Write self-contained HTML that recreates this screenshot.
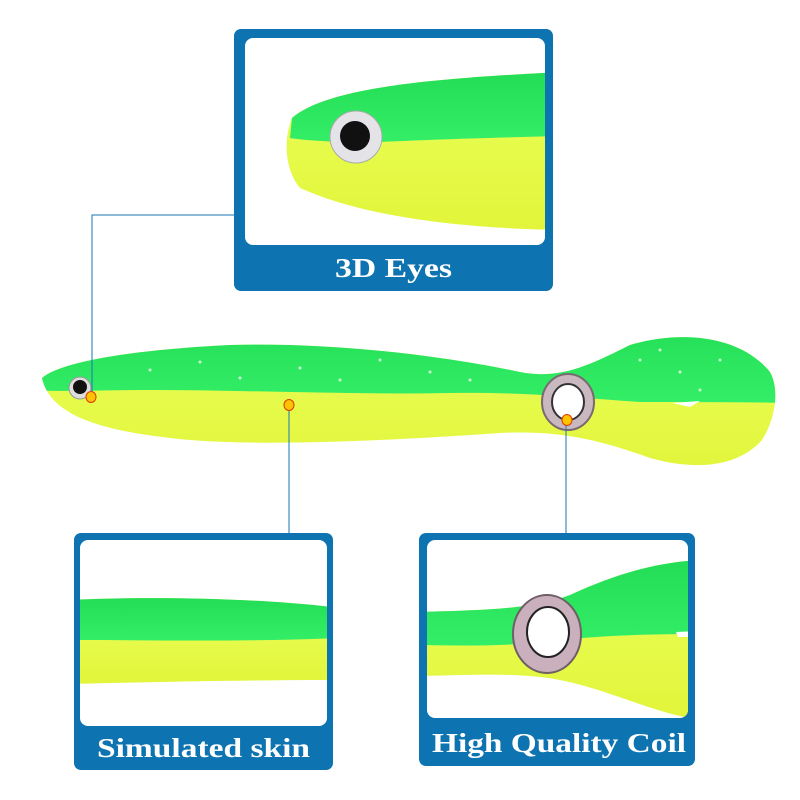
<!DOCTYPE html>
<html><head><meta charset="utf-8"><style>
html,body{margin:0;padding:0;background:#fff;width:800px;height:800px;overflow:hidden}
svg{display:block}
text{font-family:"Liberation Serif",serif;font-weight:bold;fill:#fff}
</style></head><body>
<svg width="800" height="800" viewBox="0 0 800 800">
<defs>
<linearGradient id="g" x1="0" y1="0" x2="0" y2="1"><stop offset="0" stop-color="#22dd55"/><stop offset="1" stop-color="#33ee66"/></linearGradient>
<linearGradient id="y" x1="0" y1="0" x2="0" y2="1"><stop offset="0" stop-color="#eaff5a"/><stop offset="1" stop-color="#e2f53a"/></linearGradient>
<clipPath id="fish"><path d="M42,378 C60,362 130,350 230,345 C330,342 440,355 520,372 C560,380 590,365 630,345 C680,330 740,335 770,372 C780,390 775,420 762,440 C740,465 700,472 650,458 C600,440 560,430 500,433 C400,440 250,448 170,438 C100,430 50,415 42,378 Z"/></clipPath>
<clipPath id="c1"><rect x="245" y="38" width="300" height="207" rx="8"/></clipPath>
<clipPath id="c2"><rect x="80" y="540" width="247" height="186" rx="8"/></clipPath>
<clipPath id="c3"><rect x="427" y="540" width="261" height="178" rx="8"/></clipPath>
</defs>

<g clip-path="url(#fish)">
<rect x="0" y="320" width="800" height="160" fill="url(#y)"/>
<path d="M30,320 H790 V403 C740,402 690,402 640,402 C580,398 530,392 450,393 C350,395 250,390 150,390 C100,390 60,392 30,390 Z" fill="url(#g)"/>
<g fill="#f4fff0" opacity="0.8">
<circle cx="150" cy="370" r="1.5"/><circle cx="200" cy="362" r="1.5"/><circle cx="240" cy="378" r="1.5"/><circle cx="300" cy="368" r="1.5"/><circle cx="340" cy="380" r="1.5"/><circle cx="380" cy="360" r="1.5"/><circle cx="430" cy="372" r="1.5"/><circle cx="470" cy="380" r="1.5"/><circle cx="640" cy="360" r="1.5"/><circle cx="680" cy="372" r="1.5"/><circle cx="720" cy="360" r="1.5"/><circle cx="700" cy="390" r="1.5"/><circle cx="660" cy="350" r="1.5"/>
</g>
</g>
<path d="M672,403 L700,401 L690,407 Z" fill="#fff"/>
<circle cx="80" cy="388" r="11" fill="#ddd" stroke="#999"/>
<circle cx="80" cy="387" r="7" fill="#111"/>
<ellipse cx="568" cy="402" rx="26" ry="28" fill="#c9b8c0" stroke="#7a6a70" stroke-width="2"/>
<ellipse cx="568" cy="402" rx="16" ry="18" fill="#fff" stroke="#333" stroke-width="2"/>

<g stroke="#1a77b5" stroke-width="1" fill="none">
<polyline points="234,215 92,215 92,397"/>
<line x1="289" y1="405" x2="289" y2="533"/>
<line x1="566" y1="420" x2="566" y2="533"/>
</g>
<g fill="#ffc400" stroke="#e03a00" stroke-width="1">
<ellipse cx="91" cy="397" rx="5" ry="5.5"/>
<ellipse cx="289" cy="405" rx="5" ry="5.5"/>
<ellipse cx="567" cy="420" rx="5" ry="5.5"/>
</g>

<rect x="234" y="29" width="319" height="262" rx="7" fill="#0d73b1"/>
<rect x="245" y="38" width="300" height="207" rx="8" fill="#fff"/>
<g clip-path="url(#c1)">
<path d="M292,118 C330,85 450,78 560,72 V230 C450,228 360,215 300,188 C285,170 283,140 292,118 Z" fill="url(#y)"/>
<path d="M292,118 C330,85 450,78 560,72 V136 C480,138 420,140 380,142 C340,143 300,140 290,138 Z" fill="url(#g)"/>
<circle cx="356" cy="137" r="26" fill="#e4e4e8" stroke="#aaa"/>
<circle cx="355" cy="136" r="15" fill="#111"/>
</g>
<text x="335" y="277" font-size="27" textLength="117" lengthAdjust="spacingAndGlyphs">3D Eyes</text>

<rect x="74" y="533" width="259" height="237" rx="7" fill="#0d73b1"/>
<rect x="80" y="540" width="247" height="186" rx="8" fill="#fff"/>
<g clip-path="url(#c2)">
<path d="M70,600 C150,596 260,598 340,608 V680 C250,680 150,682 70,684 Z" fill="url(#y)"/>
<path d="M70,600 C150,596 260,598 340,608 V638 C250,642 150,640 70,640 Z" fill="url(#g)"/>
</g>
<text x="97" y="757" font-size="27" textLength="213" lengthAdjust="spacingAndGlyphs">Simulated skin</text>

<rect x="419" y="533" width="276" height="233" rx="7" fill="#0d73b1"/>
<rect x="427" y="540" width="261" height="178" rx="8" fill="#fff"/>
<g clip-path="url(#c3)">
<path d="M420,612 C480,610 530,610 570,595 C620,572 660,562 700,560 V720 C650,712 610,690 560,680 C520,672 470,675 420,676 Z" fill="url(#y)"/>
<path d="M420,612 C480,610 530,610 570,595 C620,572 660,562 700,560 V634 C640,634 600,636 560,640 C520,646 470,646 420,645 Z" fill="url(#g)"/>
<path d="M676,632 L700,631 L700,637 L678,637 Z" fill="#fff"/>
<ellipse cx="547" cy="634" rx="34" ry="39" fill="#c9b0bc" stroke="#6f5f66" stroke-width="2"/>
<ellipse cx="548" cy="632" rx="21" ry="25" fill="#fff" stroke="#222" stroke-width="2"/>
</g>
<text x="432" y="752" font-size="27" textLength="254" lengthAdjust="spacingAndGlyphs">High Quality Coil</text>
</svg>
</body></html>
